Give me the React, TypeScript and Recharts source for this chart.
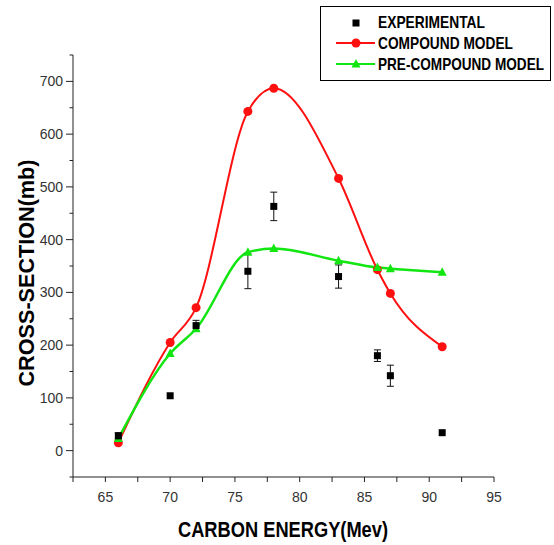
import { ComposedChart, Line, Scatter, ErrorBar, XAxis, YAxis } from "recharts";

const energies = [66, 70, 72, 76, 78, 83, 86, 87, 91];
const experimental = [28, 104, 237, 340, 463, 330, 180, 142, 34];
const expError = [6, 0, 10, 33, 27, 22, 11, 20, 0];
const compound = [15, 205, 271, 643, 687, 516, 343, 298, 197];
const preCompound = [23, 184, 231, 376, 383, 360, 347, 345, 338];

const xTicks = [62.5, 65, 67.5, 70, 72.5, 75, 77.5, 80, 82.5, 85, 87.5, 90, 92.5, 95];
const yTicks = [-50, 0, 50, 100, 150, 200, 250, 300, 350, 400, 450, 500, 550, 600, 650, 700, 750];
const legendLabels = ["EXPERIMENTAL", "COMPOUND MODEL", "PRE-COMPOUND MODEL"];

const RED = "#ff1010";
const GREEN = "#11e611";
const AXIS = "#222";
const TICK_TEXT = "#333";
const FONT = "'Liberation Sans', Arial, sans-serif";

const rows = energies.map((energy, i) => ({
  energy,
  experimental: experimental[i],
  err: expError[i],
  compound: compound[i],
  preCompound: preCompound[i],
}));

function XTick(props: any) {
  const { x, y, payload } = props;
  const major = payload.value % 5 === 0;
  return (
    <g>
      <line x1={x} x2={x} y1={y} y2={y + 5} stroke={AXIS} />
      {major && (
        <text x={x} y={y + 25} textAnchor="middle" fontSize={14} fill={TICK_TEXT} fontFamily={FONT}>
          {payload.value}
        </text>
      )}
    </g>
  );
}

function YTick(props: any) {
  const { x, y, payload } = props;
  const major = payload.value % 100 === 0;
  if (!major) return <line x1={x - 3.5} x2={x} y1={y} y2={y} stroke={AXIS} />;
  return (
    <g>
      <line x1={x - 7} x2={x} y1={y} y2={y} stroke={AXIS} />
      <text x={x - 10} y={y + 5} textAnchor="end" fontSize={14} fill={TICK_TEXT} fontFamily={FONT}>
        {payload.value}
      </text>
    </g>
  );
}

function Square(props: any) {
  const { cx, cy } = props;
  return <rect x={cx - 3.5} y={cy - 3.5} width={7} height={7} fill="#000" />;
}

function Triangle(props: any) {
  const { cx, cy } = props;
  if (cx == null || cy == null) return null;
  return <path d={`M${cx},${cy - 5} L${cx + 4.5},${cy + 3.5} L${cx - 4.5},${cy + 3.5} Z`} fill={GREEN} />;
}

function LegendBox() {
  const widths = [107, 135, 166];
  const baselines = [28, 49, 70];
  return (
    <svg width={554} height={90} style={{ position: "absolute", left: 0, top: 0, pointerEvents: "none" }}>
      <rect x={320.5} y={6.5} width={230} height={74} fill="#fff" stroke="#000" />
      <rect x={352.5} y={19.5} width={7} height={7} fill="#000" />
      <line x1={336} x2={375} y1={43} y2={43} stroke={RED} strokeWidth={2} />
      <circle cx={356} cy={43} r={4.5} fill={RED} />
      <line x1={336} x2={375} y1={64} y2={64} stroke={GREEN} strokeWidth={2} />
      <path d="M356,59 L360.5,67.5 L351.5,67.5 Z" fill={GREEN} />
      <g fontFamily={FONT} fontWeight="bold" fontSize={14.5} fill="#000">
        {legendLabels.map((label, i) => (
          <text
            key={label}
            x={0}
            y={0}
            transform={`translate(378,${baselines[i]}) scale(1,1.12)`}
            textLength={widths[i]}
            lengthAdjust="spacingAndGlyphs"
          >
            {label}
          </text>
        ))}
      </g>
    </svg>
  );
}

export default function App() {
  return (
    <div style={{ position: "absolute", left: 0, top: 0, width: 554, height: 545, background: "#fff" }}>
      <ComposedChart width={554} height={545} data={rows} margin={{ top: 55, right: 60, bottom: 0, left: 0 }}>
        <XAxis
          dataKey="energy"
          type="number"
          domain={[62.5, 95]}
          ticks={xTicks}
          interval={0}
          allowDataOverflow
          tickSize={0}
          tickMargin={0}
          tickLine={false}
          tick={XTick}
          axisLine={{ stroke: AXIS }}
          height={68}
        />
        <YAxis
          type="number"
          domain={[-50, 750]}
          ticks={yTicks}
          interval={0}
          allowDataOverflow
          tickSize={0}
          tickMargin={0}
          tickLine={false}
          tick={YTick}
          axisLine={{ stroke: AXIS }}
          width={73}
        />
        <Line
          dataKey="compound"
          type="monotone"
          stroke={RED}
          strokeWidth={2}
          dot={{ r: 4.5, fill: RED, stroke: RED, strokeWidth: 0 }}
          isAnimationActive={false}
        />
        <Line
          dataKey="preCompound"
          type="monotone"
          stroke={GREEN}
          strokeWidth={2.5}
          dot={Triangle}
          isAnimationActive={false}
        />
        <Scatter dataKey="experimental" shape={Square} isAnimationActive={false}>
          <ErrorBar dataKey="err" direction="y" width={3.5} stroke="#111" strokeWidth={1} />
        </Scatter>
      </ComposedChart>
      <svg width={554} height={545} style={{ position: "absolute", left: 0, top: 0, pointerEvents: "none" }}>
        <g fontFamily={FONT} fontWeight="bold" fontSize={22} fill="#000">
          <text x={283} y={537} textAnchor="middle" textLength={210} lengthAdjust="spacingAndGlyphs">
            CARBON ENERGY(Mev)
          </text>
          <text
            x={0}
            y={0}
            transform="translate(34,273) rotate(-90)"
            textAnchor="middle"
            textLength={227}
            lengthAdjust="spacingAndGlyphs"
          >
            CROSS-SECTION(mb)
          </text>
        </g>
      </svg>
      <LegendBox />
    </div>
  );
}
